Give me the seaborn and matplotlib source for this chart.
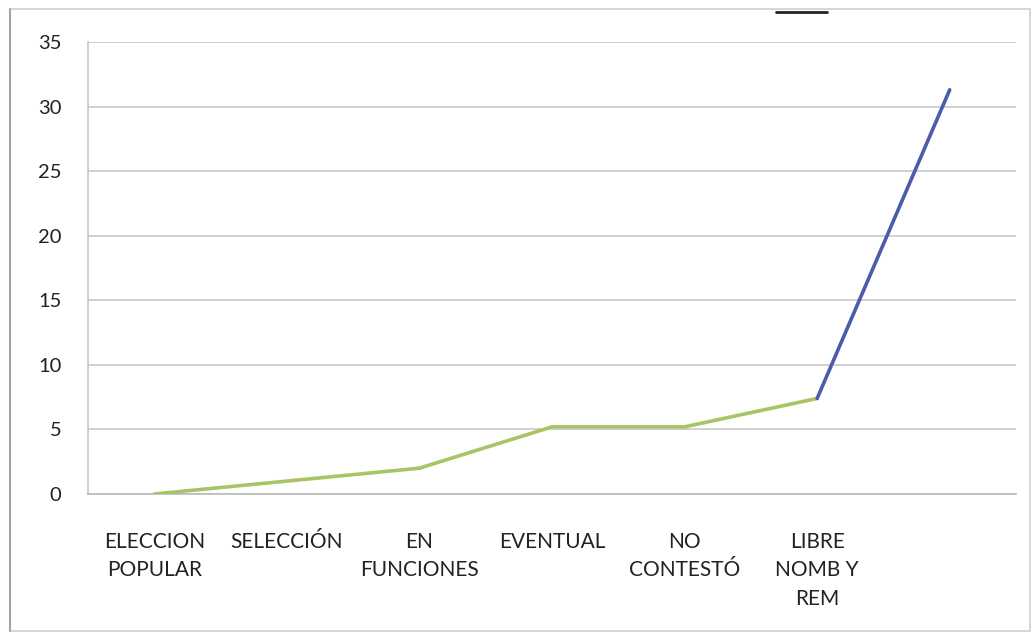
import matplotlib.pyplot as plt
import matplotlib.patches as mpatches
import seaborn as sns
import pandas as pd
import numpy as np

# ===================== DATOS =====================

categorias = [
    "ELECCION\nPOPULAR",
    "SELECCIÓN",
    "EN\nFUNCIONES",
    "EVENTUAL",
    "NO\nCONTESTÓ",
    "LIBRE\nNOMB Y\nREM",
    "",
]
valores = [0, 1, 2, 5.2, 5.2, 7.4, 31.3]
y_ticks = [0, 5, 10, 15, 20, 25, 30, 35]

verde = "#a9c466"
azul = "#4d5ca8"

# ===================== FIGURA =====================

sns.set_style("white")
plt.rcParams["font.family"] = ["Lato", "DejaVu Sans"]

df = pd.DataFrame({"pos": np.arange(len(valores)), "valor": valores})

fig = plt.figure(figsize=(10.35, 6.39), dpi=100)
ax = fig.add_axes([88 / 1035, 1 - 494 / 639, (1016 - 88) / 1035, (494 - 42) / 639])

# tramo verde (todas menos la última) y tramo azul (último segmento)
sns.lineplot(data=df.iloc[:-1], x="pos", y="valor", color=verde,
             linewidth=2.6, ax=ax, zorder=3)
sns.lineplot(data=df.iloc[-2:], x="pos", y="valor", color=azul,
             linewidth=2.6, ax=ax, zorder=3)

ax.set_xlim(-0.5, len(valores) - 0.5)
ax.set_ylim(0, 35)
ax.set_yticks(y_ticks)
ax.set_yticklabels([str(v) for v in y_ticks])

ax.set_xticks(df["pos"])
ax.set_xticklabels(categorias, linespacing=1.55)
ax.set_xticks(np.arange(-0.5, len(valores)), minor=True)

ax.tick_params(axis="x", which="major", length=0, pad=27, labelsize=15,
               colors="#222222")
ax.tick_params(axis="x", which="minor", length=5, width=1, color="#bbbbbb",
               direction="out")
ax.tick_params(axis="y", length=0, pad=19, labelsize=14.5, colors="#222222")

ax.grid(axis="y", color="#c8c8c8", linewidth=1.2)
ax.grid(axis="x", visible=False)
for lado in ["top", "right"]:
    ax.spines[lado].set_visible(False)
ax.spines["left"].set_color("#c8c8c8")
ax.spines["bottom"].set_color("#bbbbbb")
ax.spines["left"].set_linewidth(1.2)
ax.spines["bottom"].set_linewidth(1.2)
ax.set_xlabel("")
ax.set_ylabel("")

# marco del gráfico
fig.add_artist(mpatches.Rectangle((10 / 1035, 8 / 639), 1020 / 1035, 622 / 639,
                                  transform=fig.transFigure, fill=False,
                                  edgecolor="#d0d0d0", linewidth=1.2))
fig.add_artist(plt.Line2D([10 / 1035, 10 / 1035], [8 / 639, 630 / 639],
                          transform=fig.transFigure, color="#999999",
                          linewidth=1.2))
fig.add_artist(plt.Line2D([776 / 1035, 827 / 1035], [1 - 12 / 639, 1 - 12 / 639],
                          transform=fig.transFigure, color="#222222",
                          linewidth=2))

fig.savefig("out.png", dpi=100)
